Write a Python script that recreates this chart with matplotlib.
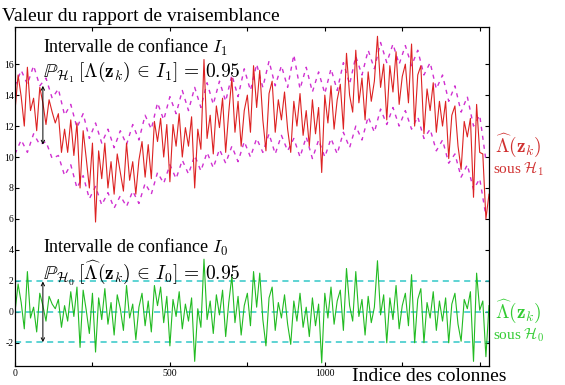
import numpy as np
import matplotlib
matplotlib.use("Agg")
import matplotlib.pyplot as plt

plt.rcParams["font.family"] = ["Liberation Serif", "DejaVu Serif"]
plt.rcParams["mathtext.fontset"] = "cm"

# Column index grids (likelihood ratio sampled every 10 columns, band every 20)
cols = np.arange(0, 1540, 10)
band_cols = np.arange(0, 1540, 20)

# Likelihood ratio under H1
lam_h1 = [
    13.0, 15.3, 13.9, 12.0, 15.8, 13.0, 13.8, 11.7, 14.5, 13.5,
    12.1, 13.7, 12.9, 12.2, 12.8, 10.3, 11.8, 10.3, 12.4, 10.1,
    12.2, 8.0, 11.7, 9.9, 8.0, 10.9, 5.8, 10.4, 8.6, 10.9,
    8.0, 9.7, 7.6, 10.2, 9.0, 7.8, 10.9, 8.5, 9.7, 7.6,
    9.8, 11.0, 8.7, 10.8, 8.6, 12.3, 11.0, 12.5, 10.0, 12.1,
    8.4, 12.1, 10.7, 12.8, 10.0, 11.9, 10.7, 12.6, 8.0, 11.8,
    10.5, 16.3, 11.2, 12.7, 10.2, 13.3, 11.9, 13.8, 10.3, 12.9,
    15.1, 11.6, 13.6, 10.7, 13.0, 14.0, 11.6, 15.9, 13.2, 15.6,
    12.4, 10.4, 14.1, 14.9, 11.6, 13.7, 12.4, 14.2, 11.8, 10.3,
    13.6, 12.0, 14.1, 11.4, 13.0, 10.7, 13.7, 11.5, 13.2, 9.0,
    14.0, 12.2, 14.6, 11.8, 13.7, 14.7, 11.8, 16.7, 14.0, 12.9,
    16.9, 13.5, 15.1, 12.4, 15.5, 13.6, 14.9, 17.8, 14.5, 16.0,
    12.4, 15.9, 14.2, 16.8, 13.4, 15.2, 16.0, 13.5, 17.3, 12.0,
    15.3, 15.9, 11.5, 14.4, 13.0, 14.8, 11.6, 13.6, 12.0, 13.6,
    9.9, 12.7, 13.3, 10.7, 9.2, 12.3, 11.3, 12.5, 7.4, 13.4,
    10.3, 10.2, 6.0, 7.6,
]

# Likelihood ratio under H0
lam_h0 = [
    0.0, 1.8, 0.6, -1.1, 2.6, -0.4, 0.3, -1.3, 1.2, 0.4,
    -0.6, 1.0, 0.5, 0.2, 0.8, -1.0, 0.4, -0.6, 1.3, -0.3,
    1.6, -2.3, 1.4, 0.1, -1.4, 1.2, -2.6, 0.9, -0.5, 1.5,
    -0.8, 0.6, -1.5, 1.1, 0.2, -1.2, 1.7, -0.4, 0.5, -1.8,
    0.3, 1.2, -0.9, 0.7, -1.3, 1.7, 0.4, 1.6, -0.7, 1.0,
    -2.2, 0.8, -0.3, 1.3, -1.1, 0.5, -0.6, 0.9, -3.2, 0.2,
    -1.0, 3.4, -0.5, 0.7, -1.4, 1.1, -0.2, 1.4, -1.6, 0.6,
    2.3, -0.7, 1.0, -1.5, 0.4, 1.2, -0.9, 2.6, 0.3, 2.5,
    -0.5, -2.2, 0.9, 1.6, -1.2, 0.6, -0.4, 1.1, -0.8, -2.1,
    0.7, -0.6, 1.2, -1.0, 0.3, -1.6, 0.9, -0.9, 0.5, -3.3,
    1.2, -0.4, 1.6, -0.8, 0.7, 1.4, -1.2, 2.8, 0.4, -0.6,
    2.6, -0.3, 0.8, -1.5, 1.0, -0.7, 0.3, 3.3, -0.2, 1.1,
    -2.0, 0.9, -0.5, 1.7, -1.1, 0.4, 1.2, -0.9, 2.4, -2.0,
    0.8, 1.5, -2.0, 0.6, -0.4, 1.3, -1.2, 0.7, -0.6, 0.9,
    -2.0, 0.5, 1.2, -0.8, -1.9, 0.8, 0.2, 1.3, -3.2, 2.5,
    0.1, 0.7, -2.9, 0.4,
]

# 95 % confidence interval I1 under H1
upper_h1 = [
    14.6, 15.6, 14.7, 15.9, 14.6, 15.1, 13.8, 14.4, 12.7, 13.4,
    11.9, 12.8, 11.2, 12.2, 10.9, 11.8, 10.6, 11.7, 10.8, 12.1,
    11.1, 12.7, 11.8, 13.5, 12.4, 13.9, 12.8, 14.3, 13.0, 14.5,
    13.2, 14.8, 13.4, 14.9, 13.6, 15.3, 13.9, 15.7, 14.3, 16.0,
    14.5, 16.2, 14.6, 15.9, 14.5, 16.6, 14.4, 15.8, 14.2, 15.5,
    14.1, 15.7, 14.3, 16.1, 14.7, 16.5, 15.3, 16.9, 15.7, 17.4,
    16.1, 17.3, 16.0, 17.2, 15.9, 16.9, 15.3, 16.1, 14.4, 15.3,
    13.6, 14.6, 12.9, 13.9, 12.0, 12.7, 9.8,
]
lower_h1 = [
    10.2, 11.1, 10.3, 11.5, 10.8, 11.0, 9.9, 10.1, 8.8, 9.5,
    8.0, 8.8, 7.3, 8.1, 6.9, 7.7, 6.7, 7.5, 6.8, 7.8,
    7.0, 8.3, 7.6, 9.0, 8.3, 9.5, 8.6, 9.8, 8.9, 10.1,
    9.1, 10.3, 9.3, 10.5, 9.6, 10.7, 9.7, 11.0, 10.0, 11.2,
    10.3, 11.5, 10.2, 11.4, 10.4, 11.2, 10.0, 11.3, 9.9, 11.1,
    10.0, 11.2, 10.2, 11.6, 10.6, 12.0, 11.1, 12.6, 11.6, 13.1,
    12.1, 13.2, 12.0, 13.0, 11.8, 12.6, 11.2, 11.8, 10.4, 11.1,
    9.6, 10.2, 8.7, 9.5, 7.9, 8.6, 6.2,
]

# 95 % confidence interval I0 under H0 (and its centre)
h0_levels = [-1.96, 0.0, 1.96]

# double arrows marking the intervals at column 90
arrow_col = 90
arrow_h1 = [10.8, 14.6]
arrow_h0 = [-1.96, 1.96]

fig = plt.figure(figsize=(5.65, 3.85), dpi=100)
ax = fig.add_axes([15 / 565, 19 / 385, 474 / 565, 339 / 385])

ax.plot(band_cols, upper_h1, color="#d030d0", lw=1.0, dashes=(3, 3.5))
ax.plot(band_cols, lower_h1, color="#d030d0", lw=1.0, dashes=(3, 3.5))
ax.plot(cols, lam_h1, color="#dd2222", lw=0.8)

for lev in h0_levels:
    ax.axhline(lev, color="#33c8c8", lw=1.1, dashes=(4, 3))
ax.plot(cols, lam_h0, color="#22bb22", lw=0.8)

arrow_kw = dict(arrowstyle="<->", color="black", lw=0.7, mutation_scale=6,
                shrinkA=0, shrinkB=0)
ax.annotate("", xy=(arrow_col, arrow_h1[1]), xytext=(arrow_col, arrow_h1[0]),
            arrowprops=arrow_kw)
ax.annotate("", xy=(arrow_col, arrow_h0[1]), xytext=(arrow_col, arrow_h0[0]),
            arrowprops=arrow_kw)

# interval captions, two lines each
ax.text(90, 17.05, r"Intervalle de confiance $I_1$", fontsize=13, va="center")
ax.text(90, 15.45, r"$\mathbb{P}_{\mathcal{H}_1}\,[\Lambda(\mathbf{z}_k)\, \in\, I_1] \,=\, 0.95$",
        fontsize=14, va="center")
ax.text(90, 4.15, r"Intervalle de confiance $I_0$", fontsize=13, va="center")
ax.text(90, 2.55, r"$\mathbb{P}_{\mathcal{H}_0}\,[\widehat{\Lambda}(\mathbf{z}_k)\, \in\, I_0] \,=\, 0.95$",
        fontsize=14, va="center")

ax.set_xlim(0, 1530)
ax.set_ylim(-3.5, 18.4)
ax.set_xticks(np.arange(0, 1501, 250))
ax.set_xticklabels(["0", "", "500", "", "1000", "", ""])
ax.set_yticks(np.arange(-2, 17, 2))
ax.set_yticklabels([str(v) for v in range(-2, 17, 2)])
ax.tick_params(direction="in", length=3, width=0.8, labelsize=7,
               top=True, right=True, pad=2)
ax.tick_params(axis="y", pad=1)
for s in ax.spines.values():
    s.set_linewidth(0.9)

fig.text(2 / 565, 1 - 21 / 385, "Valeur du rapport de vraisemblance",
         fontsize=14, ha="left", va="baseline")
fig.text(352 / 565, 1 - 381 / 385, "Indice des colonnes",
         fontsize=14, ha="left", va="baseline")

fig.text(0.918, 0.623, r"$\widehat{\Lambda}(\mathbf{z}_k)$", color="#d03030",
         fontsize=14, ha="center", va="center")
fig.text(0.918, 0.562, r"sous $\mathcal{H}_1$", color="#d03030",
         fontsize=11, ha="center", va="center")
fig.text(0.918, 0.192, r"$\widehat{\Lambda}(\mathbf{z}_k)$", color="#33cc33",
         fontsize=14, ha="center", va="center")
fig.text(0.918, 0.130, r"sous $\mathcal{H}_0$", color="#33cc33",
         fontsize=11, ha="center", va="center")

fig.savefig("out.png", dpi=100)
